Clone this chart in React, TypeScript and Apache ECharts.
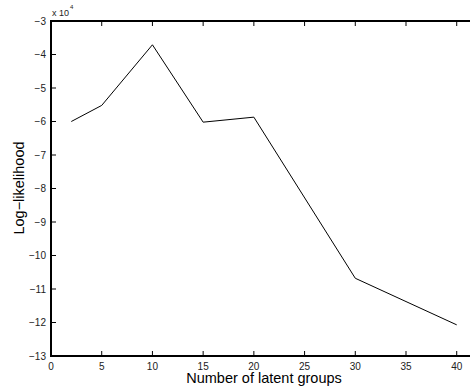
import React, { useEffect, useRef } from "react";
import * as echarts from "echarts";

// Number of latent groups
const groups = [2, 5, 10, 15, 20, 30, 40];
// Log-likelihood values (raw, axis shows them in units of 10^4)
const logLik = [-60000, -55200, -37100, -60200, -58700, -106800, -120700];
// Tick values
const xTicks = [0, 5, 10, 15, 20, 25, 30, 35, 40];
const yTicks = [-130000, -120000, -110000, -100000, -90000, -80000, -70000, -60000, -50000, -40000, -30000];
const yTicksScale = 10000;
const xLabel = "Number of latent groups";
const yLabel = "Log\u2212likelihood";

const FONT = "'Liberation Sans', Arial, Helvetica, sans-serif";
const X_MIN = 0;
const X_MAX = 41.31;
const Y_MIN = -130000;
const Y_MAX = -30000;

export default function App() {
  const ref = useRef<HTMLDivElement>(null);
  useEffect(() => {
    if (!ref.current) return;
    const chart = echarts.init(ref.current, null, { renderer: "svg" });
    const frameRect = (x: number, y: number, w: number, h: number) => ({
      type: "rect",
      shape: { x, y, width: w, height: h },
      style: { fill: "#000" },
      silent: true,
      z: 100,
    });
    chart.setOption({
      animation: false,
      grid: { left: 51, top: 21, right: 0, bottom: 33, containLabel: false },
      xAxis: [
        {
          type: "value",
          min: X_MIN,
          max: X_MAX,
          interval: 5,
          axisLine: { show: false },
          axisTick: { show: false },
          splitLine: { show: false },
          axisLabel: { color: "#222", fontSize: 10, fontFamily: FONT, margin: 5, showMaxLabel: false },
        },
      ],
      yAxis: [
        {
          type: "value",
          min: Y_MIN,
          max: Y_MAX,
          interval: 10000,
          axisLine: { show: false },
          axisTick: { show: false },
          splitLine: { show: false },
          axisLabel: {
            color: "#222",
            fontSize: 10,
            fontFamily: FONT,
            margin: 5,
            formatter: (v: number) => {
              const n = Math.round(v / yTicksScale);
              return n < 0 ? "\u2212" + Math.abs(n) : String(n);
            },
          },
        },
      ],
      series: [
        {
          type: "line",
          data: groups.map((g, i) => [g, logLik[i]]),
          showSymbol: false,
          lineStyle: { color: "#000", width: 1 },
          clip: false,
        },
        {
          type: "custom",
          silent: true,
          clip: false,
          data: xTicks.map((v) => [v, Y_MIN]),
          renderItem: (params: any, api: any) => {
            const v = api.value(0);
            const b = api.coord([v, Y_MIN]);
            const t = api.coord([v, Y_MAX]);
            return {
              type: "group",
              children: [
                { type: "rect", shape: { x: b[0] - 0.5, y: b[1] - 5, width: 1, height: 5 }, style: { fill: "#000" } },
                { type: "rect", shape: { x: t[0] - 0.5, y: t[1], width: 1, height: 5 }, style: { fill: "#000" } },
              ],
            };
          },
        },
        {
          type: "custom",
          silent: true,
          clip: false,
          data: yTicks.map((v) => [X_MIN, v]),
          renderItem: (params: any, api: any) => {
            const v = api.value(1);
            const p = api.coord([X_MIN, v]);
            return { type: "rect", shape: { x: p[0], y: p[1] - 0.5, width: 5, height: 1 }, style: { fill: "#000" } };
          },
        },
      ],
      graphic: [
        // plot frame: left, bottom and top edges (right edge lies outside the picture)
        frameRect(50, 20, 2, 337),
        frameRect(50, 355, 420, 2),
        frameRect(50, 20, 420, 2),
        {
          type: "text",
          x: 52,
          y: 8,
          style: { text: "x 10", font: `9px ${FONT}`, fill: "#222" },
        },
        {
          type: "text",
          x: 70,
          y: 4,
          style: { text: "4", font: `6px ${FONT}`, fill: "#222" },
        },
        {
          type: "text",
          x: 264,
          y: 378,
          style: {
            text: xLabel,
            font: `14.5px ${FONT}`,
            fill: "#000",
            align: "center",
            verticalAlign: "middle",
          },
        },
        {
          type: "text",
          x: 19,
          y: 188,
          rotation: Math.PI / 2,
          style: {
            text: yLabel,
            font: `14.5px ${FONT}`,
            fill: "#000",
            align: "center",
            verticalAlign: "middle",
          },
        },
      ],
    });
    return () => chart.dispose();
  }, []);
  return (
    <div
      ref={ref}
      style={{ position: "absolute", left: 0, top: 0, width: 470, height: 389 }}
    />
  );
}
